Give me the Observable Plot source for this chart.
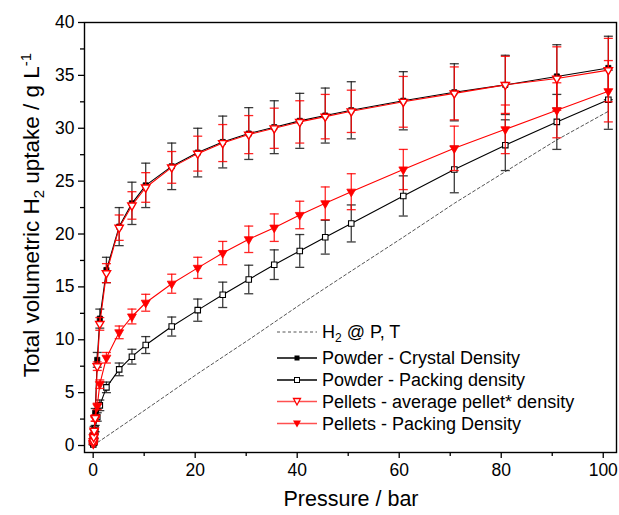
<!DOCTYPE html>
<html>
<head>
<meta charset="utf-8">
<script src="https://cdn.jsdelivr.net/npm/d3@7"></script>
<script src="https://cdn.jsdelivr.net/npm/@observablehq/plot@0.6"></script>
<style>
  body { margin: 0; background: #fff; }
  #chart { position: relative; width: 619px; height: 515px; }
  svg { font-family: "Liberation Sans", Arial, sans-serif; }
</style>
</head>
<body>
<div id="chart"></div>
<script>
// ---- data ----
const pressure = [0.02,0.05,0.1,0.2,0.4,0.8,1.3,2.6,5.1,7.6,10.3,15.4,20.5,25.4,30.5,35.5,40.5,45.5,50.6,60.8,70.8,80.8,90.9,101.0];

const powderCrystal    = [0.2,0.5,0.9,1.5,3.1,8.1,12.0,16.6,20.7,22.9,24.6,26.4,27.7,28.7,29.5,30.1,30.7,31.2,31.7,32.6,33.4,34.1,34.9,35.7];
const powderCrystalErr = [0.1,0.1,0.2,0.3,0.4,0.7,0.9,1.2,1.8,2.0,2.1,2.2,2.3,2.45,2.45,2.5,2.6,2.6,2.7,2.75,2.7,2.8,3.0,3.0];

const powderPacking    = [0.1,0.3,0.5,0.9,1.6,2.7,3.8,5.5,7.2,8.4,9.5,11.25,12.8,14.25,15.7,17.1,18.4,19.7,21.0,23.6,26.1,28.4,30.6,32.7];
const powderPackingErr = [0.05,0.1,0.1,0.2,0.3,0.4,0.5,0.5,0.6,0.7,0.8,0.9,1.05,1.2,1.35,1.4,1.55,1.6,1.75,1.9,2.2,2.4,2.6,2.8];

const pelletAverage    = [0.2,0.4,0.8,1.4,2.6,7.5,11.5,16.3,20.6,22.7,24.4,26.3,27.6,28.6,29.4,30.0,30.6,31.1,31.6,32.5,33.3,34.1,34.7,35.5];
const pelletAverageErr = [0.1,0.1,0.2,0.2,0.3,0.4,0.6,0.9,1.2,1.3,1.4,1.5,1.65,1.75,1.8,1.9,2.0,2.1,2.0,2.4,2.5,2.7,3.0,3.0];

const pelletPacking    = [0.2,0.4,0.7,1.3,2.5,3.7,5.8,8.3,10.7,12.2,13.5,15.3,16.8,18.2,19.5,20.6,21.8,22.9,24.0,26.1,28.1,29.9,31.7,33.5];
const pelletPackingErr = [0.05,0.1,0.1,0.2,0.2,0.3,0.4,0.5,0.6,0.7,0.8,0.9,1.0,1.1,1.25,1.3,1.3,1.55,1.7,1.9,2.1,2.3,2.6,2.9];

const gasPressure = [0,10.3,20.5,30.5,40.5,50.6,60.8,70.8,80.8,90.9,101.0];
const gasUptake   = [0,3.4,6.8,10.0,13.3,16.5,19.7,22.9,25.9,28.9,31.6];

const xTicks = [0,20,40,60,80,100];
const xMinor = [10,30,50,70,90];
const yTicks = [0,5,10,15,20,25,30,35,40];
const yMinor = [2.5,7.5,12.5,17.5,22.5,27.5,32.5,37.5];

const legendLabels = ["H2 @ P, T","Powder - Crystal Density","Powder - Packing density","Pellets - average pellet* density","Pellets - Packing Density"];

// ---- build tables ----
const rows = (vals, errs) => pressure.map((p, i) => ({p, v: vals[i], e: errs[i]}));
const crystal = rows(powderCrystal, powderCrystalErr);
const packing = rows(powderPacking, powderPackingErr);
const pavg = rows(pelletAverage, pelletAverageErr);
const ppack = rows(pelletPacking, pelletPackingErr);
const gas = gasPressure.map((p, i) => ({p, v: gasUptake[i]}));

const capSymbol = {draw(ctx, size) { const r = Math.sqrt(size / Math.PI); ctx.moveTo(-r, 0); ctx.lineTo(r, 0); }};

function errMarks(data, color, opacity) {
  return [
    Plot.ruleX(data, {x: "p", y1: d => d.v - d.e, y2: d => d.v + d.e, stroke: color, strokeWidth: 1.3, strokeOpacity: opacity}),
    Plot.dot(data, {x: "p", y: d => d.v + d.e, symbol: capSymbol, r: 4.5, stroke: color, strokeWidth: 1.3, strokeOpacity: opacity}),
    Plot.dot(data, {x: "p", y: d => d.v - d.e, symbol: capSymbol, r: 4.5, stroke: color, strokeWidth: 1.3, strokeOpacity: opacity})
  ];
}

const BLACK = "#000";
const RED = "#ff0000";

const plot = Plot.plot({
  width: 619,
  height: 515,
  marginLeft: 84,
  marginRight: 3,
  marginTop: 22,
  marginBottom: 63,
  style: {fontFamily: "Liberation Sans, Arial, sans-serif", fontSize: "17px", background: "white"},
  x: {domain: [-1.7, 102.6], label: null},
  y: {domain: [-0.66, 40], label: null},
  marks: [
    Plot.axisX(xTicks, {tickSize: 6, tickPadding: 5, fontSize: 17.5, label: null, stroke: BLACK, strokeWidth: 1.3, color: BLACK}),
    Plot.axisX(xMinor, {tickSize: 4, tickFormat: () => "", label: null, strokeWidth: 1.3}),
    Plot.axisY(yTicks, {tickSize: 6, tickPadding: 4, fontSize: 17.5, label: null, strokeWidth: 1.3}),
    Plot.axisY(yMinor, {tickSize: 4, tickFormat: () => "", label: null, strokeWidth: 1.3}),
    // gas line
    Plot.line(gas, {x: "p", y: "v", stroke: "#555", strokeWidth: 1, strokeDasharray: "3,2.5"}),
    // black series
    ...errMarks(packing, "#1a1a1a", 0.85),
    Plot.line(packing, {x: "p", y: "v", stroke: BLACK, strokeWidth: 1.1}),
    ...errMarks(crystal, "#1a1a1a", 0.85),
    Plot.line(crystal, {x: "p", y: "v", stroke: BLACK, strokeWidth: 1.1}),
    Plot.dot(packing, {x: "p", y: "v", symbol: "square", r: 3.1, fill: "white", stroke: BLACK, strokeWidth: 1.1}),
    Plot.dot(crystal, {x: "p", y: "v", symbol: "square", r: 2.9, fill: BLACK, stroke: BLACK, strokeWidth: 0.8}),
    // red series
    ...errMarks(ppack, RED, 0.85),
    Plot.line(ppack, {x: "p", y: "v", stroke: RED, strokeWidth: 1.1}),
    ...errMarks(pavg, RED, 0.85),
    Plot.line(pavg, {x: "p", y: "v", stroke: RED, strokeWidth: 1.1}),
    Plot.dot(ppack, {x: "p", y: "v", symbol: "triangle", rotate: 180, r: 3.3, fill: RED, stroke: RED, strokeWidth: 0.8}),
    Plot.dot(pavg, {x: "p", y: "v", symbol: "triangle", rotate: 180, r: 3.1, fill: "white", stroke: RED, strokeWidth: 1.4}),
    Plot.frame({stroke: BLACK, strokeWidth: 1.4})
  ]
});

document.getElementById("chart").appendChild(plot);

// ---- axis titles and legend ----
const svg = d3.select(plot);
const font = "Liberation Sans, Arial, sans-serif";

svg.append("text")
  .attr("x", 351).attr("y", 506)
  .attr("text-anchor", "middle")
  .attr("font-family", font).attr("font-size", 21.5).attr("fill", "black")
  .text("Pressure / bar");

const yl = svg.append("text")
  .attr("transform", "translate(39,215) rotate(-90)")
  .attr("text-anchor", "middle")
  .attr("font-family", font).attr("font-size", 22.5).attr("fill", "black");
yl.append("tspan").text("Total volumetric H");
yl.append("tspan").attr("font-size", 15).attr("dy", 5).text("2");
yl.append("tspan").attr("dy", -5).text(" uptake / g L");
yl.append("tspan").attr("font-size", 15).attr("dy", -8).text("-1");

const lg = svg.append("g").attr("font-family", font).attr("font-size", 18).attr("fill", "black").attr("text-anchor", "start");
const rowY = [332, 358, 380, 401.5, 423.5];
const lx0 = 277, lx1 = 317, tx = 322;
const styles = [
  {stroke: "#555", dash: "3,2.5", sym: null},
  {stroke: BLACK, sym: "sqFilled"},
  {stroke: BLACK, sym: "sqOpen"},
  {stroke: "#ff5050", sym: "triOpen"},
  {stroke: "#ff5050", sym: "triFilled"}
];
styles.forEach((s, i) => {
  const y = rowY[i];
  lg.append("line").attr("x1", lx0).attr("x2", lx1).attr("y1", y).attr("y2", y)
    .attr("stroke", s.stroke).attr("stroke-width", s.dash ? 1 : 1.5)
    .attr("stroke-dasharray", s.dash || null);
  const cx = (lx0 + lx1) / 2;
  if (s.sym === "sqFilled") lg.append("rect").attr("x", cx - 2.5).attr("y", y - 2.5).attr("width", 5).attr("height", 5).attr("fill", "black");
  if (s.sym === "sqOpen") lg.append("rect").attr("x", cx - 2.5).attr("y", y - 2.5).attr("width", 5).attr("height", 5).attr("fill", "white").attr("stroke", "black");
  if (s.sym === "triOpen") lg.append("path").attr("d", `M${cx-3.5},${y-3}L${cx+3.5},${y-3}L${cx},${y+3.5}Z`).attr("fill", "white").attr("stroke", RED).attr("stroke-width", 1.3);
  if (s.sym === "triFilled") lg.append("path").attr("d", `M${cx-4},${y-3}L${cx+4},${y-3}L${cx},${y+4}Z`).attr("fill", RED);
  const t = lg.append("text").attr("x", tx).attr("y", y + 6);
  if (i === 0) {
    t.append("tspan").text("H");
    t.append("tspan").attr("font-size", 12).attr("dy", 4).text("2");
    t.append("tspan").attr("dy", -4).text(" @ P, T");
  } else {
    t.text(legendLabels[i]);
  }
});
</script>
</body>
</html>
